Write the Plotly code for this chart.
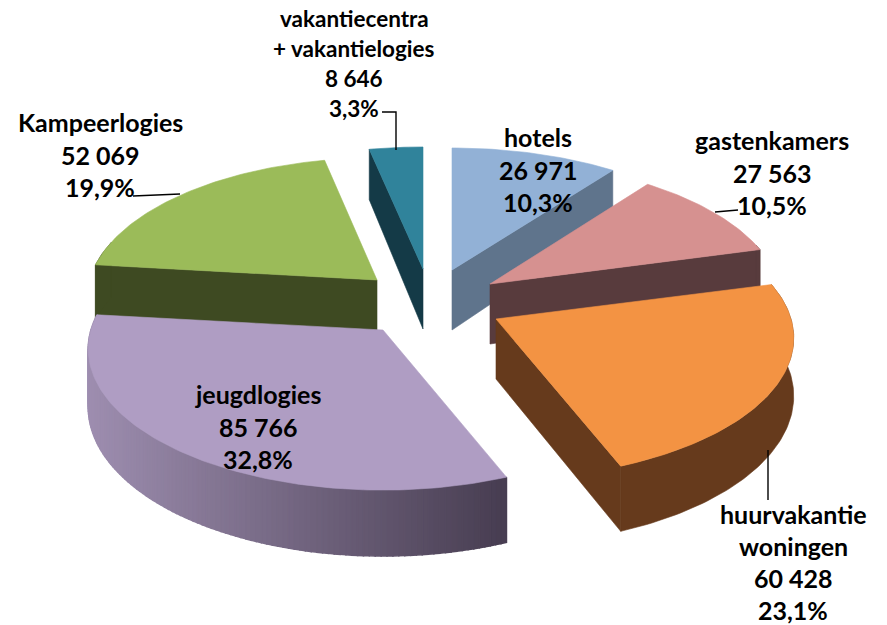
import math
import plotly.graph_objects as go

# ---- data (clockwise from 12 o'clock) ----
names = [["hotels"], ["gastenkamers"], ["huurvakantie", "woningen"], ["jeugdlogies"], ["Kampeerlogies"], ["vakantiecentra", "+ vakantielogies"]]
values = [26971, 27563, 60428, 85766, 52069, 8646]
value_labels = ["26 971", "27 563", "60 428", "85 766", "52 069", "8 646"]
pct_labels = ["10,3%", "10,5%", "23,1%", "32,8%", "19,9%", "3,3%"]

# ---- styles ----
top_colors = ["#92b1d6", "#d69190", "#f39343", "#af9dc3", "#9bbb59", "#30839b"]
wall_colors = ["#5f748c", "#583b3d", "#663a1c", None, "#3e4a22", "#143a47"]
apex = [(452, 270), (490, 284), (496, 319), (383, 330), (377, 280), (423, 269)]
radius_scale = [1.0, 0.98, 1.0, 0.99, 0.975, 1.0]
label_pos = [(538, 137), (772, 140), (793, 514), (258, 394), (100, 122), (354, 18)]
label_size = [25, 25, 25, 25, 25, 22.5]
label_step = [32.5, 32.5, 32, 32.5, 32.5, 30]
draw_order = [0, 5, 4, 1, 3, 2]
R_X, R_Y, PERSP, DEPTH, APEX_DEPTH = 295, 138.5, 0.135, 57, 60
leaders = [[(382, 112), (396, 112), (396, 150)], [(133, 196), (180, 194)], [(715, 212), (738, 210)], [(768, 450), (768, 500)]]

total = sum(values)
angles = [0]
for v in values:
    angles.append(angles[-1] + 360 * v / total)


def rim(i, deg):
    t = math.radians(deg)
    u, v = math.sin(t), math.cos(t)
    s = 1 + PERSP * v
    return apex[i][0] + R_X * radius_scale[i] * u / s, apex[i][1] - R_Y * v / s, DEPTH / s, v


def poly(fig, pts, color, lw=0.6):
    xs = [p[0] for p in pts] + [pts[0][0]]
    ys = [p[1] for p in pts] + [pts[0][1]]
    fig.add_trace(go.Scatter(x=xs, y=ys, mode="lines", fill="toself", fillcolor=color,
                             line=dict(color=color, width=lw), hoverinfo="skip", showlegend=False))


def purple_wall(x):
    f = min(max((x - 88) / (500 - 88), 0), 1)
    a, b = (158, 142, 176), (72, 62, 82)
    return "rgb(%d,%d,%d)" % tuple(round(a[k] + (b[k] - a[k]) * f) for k in range(3))


fig = go.Figure()
for i in draw_order:
    a0, a1 = angles[i], angles[i + 1]
    n = max(4, int(a1 - a0))
    degs = [a0 + (a1 - a0) * k / n for k in range(n + 1)]
    pts = [rim(i, d) for d in degs]
    ax, ay = apex[i]
    wall = wall_colors[i]
    # cut faces that look at the viewer
    if math.sin(math.radians(a0)) < -1e-6:
        poly(fig, [(ax, ay), (pts[0][0], pts[0][1]), (pts[0][0], pts[0][1] + pts[0][2]), (ax, ay + APEX_DEPTH)], wall or "#8a7a96")
    if math.sin(math.radians(a1)) > 1e-6:
        poly(fig, [(ax, ay), (pts[-1][0], pts[-1][1]), (pts[-1][0], pts[-1][1] + pts[-1][2]), (ax, ay + APEX_DEPTH)], wall or "#8a7a96")
    # outer wall
    front = [p for p in pts if p[3] < 0.3]
    if wall:
        if len(front) > 1:
            poly(fig, [(p[0], p[1]) for p in front] + [(p[0], p[1] + p[2]) for p in reversed(front)], wall)
    else:
        quads = [(min(p[3], q[3]), p, q) for p, q in zip(pts, pts[1:]) if min(p[3], q[3]) < 0.3]
        for _, p, q in sorted(quads, key=lambda z: -z[0]):
            poly(fig, [(p[0], p[1]), (q[0], q[1]), (q[0], q[1] + q[2]), (p[0], p[1] + p[2])],
                 purple_wall((p[0] + q[0]) / 2), lw=1.5)
    poly(fig, [(ax, ay)] + [(p[0], p[1]) for p in pts], top_colors[i])

for seg in leaders:
    fig.add_trace(go.Scatter(x=[p[0] for p in seg], y=[p[1] for p in seg], mode="lines",
                             line=dict(color="black", width=1.4), hoverinfo="skip", showlegend=False))

anns = []
for i in range(len(values)):
    lines = names[i] + [value_labels[i], pct_labels[i]]
    x, y = label_pos[i]
    for k, text in enumerate(lines):
        anns.append(dict(x=x, y=y + k * label_step[i], text="<b>%s</b>" % text, showarrow=False,
                         xanchor="center", yanchor="middle", xref="x", yref="y",
                         font=dict(family="Lato", size=label_size[i], color="black")))

fig.update_layout(width=887, height=625, margin=dict(l=0, r=0, t=0, b=0), autosize=False,
                  paper_bgcolor="white", plot_bgcolor="white", showlegend=False, annotations=anns,
                  xaxis=dict(range=[0, 887], visible=False, fixedrange=True),
                  yaxis=dict(range=[625, 0], visible=False, fixedrange=True))
fig.write_html("out.html", config=dict(displayModeBar=False),
               post_script="document.body.style.margin='0';document.body.style.overflow='hidden';")
